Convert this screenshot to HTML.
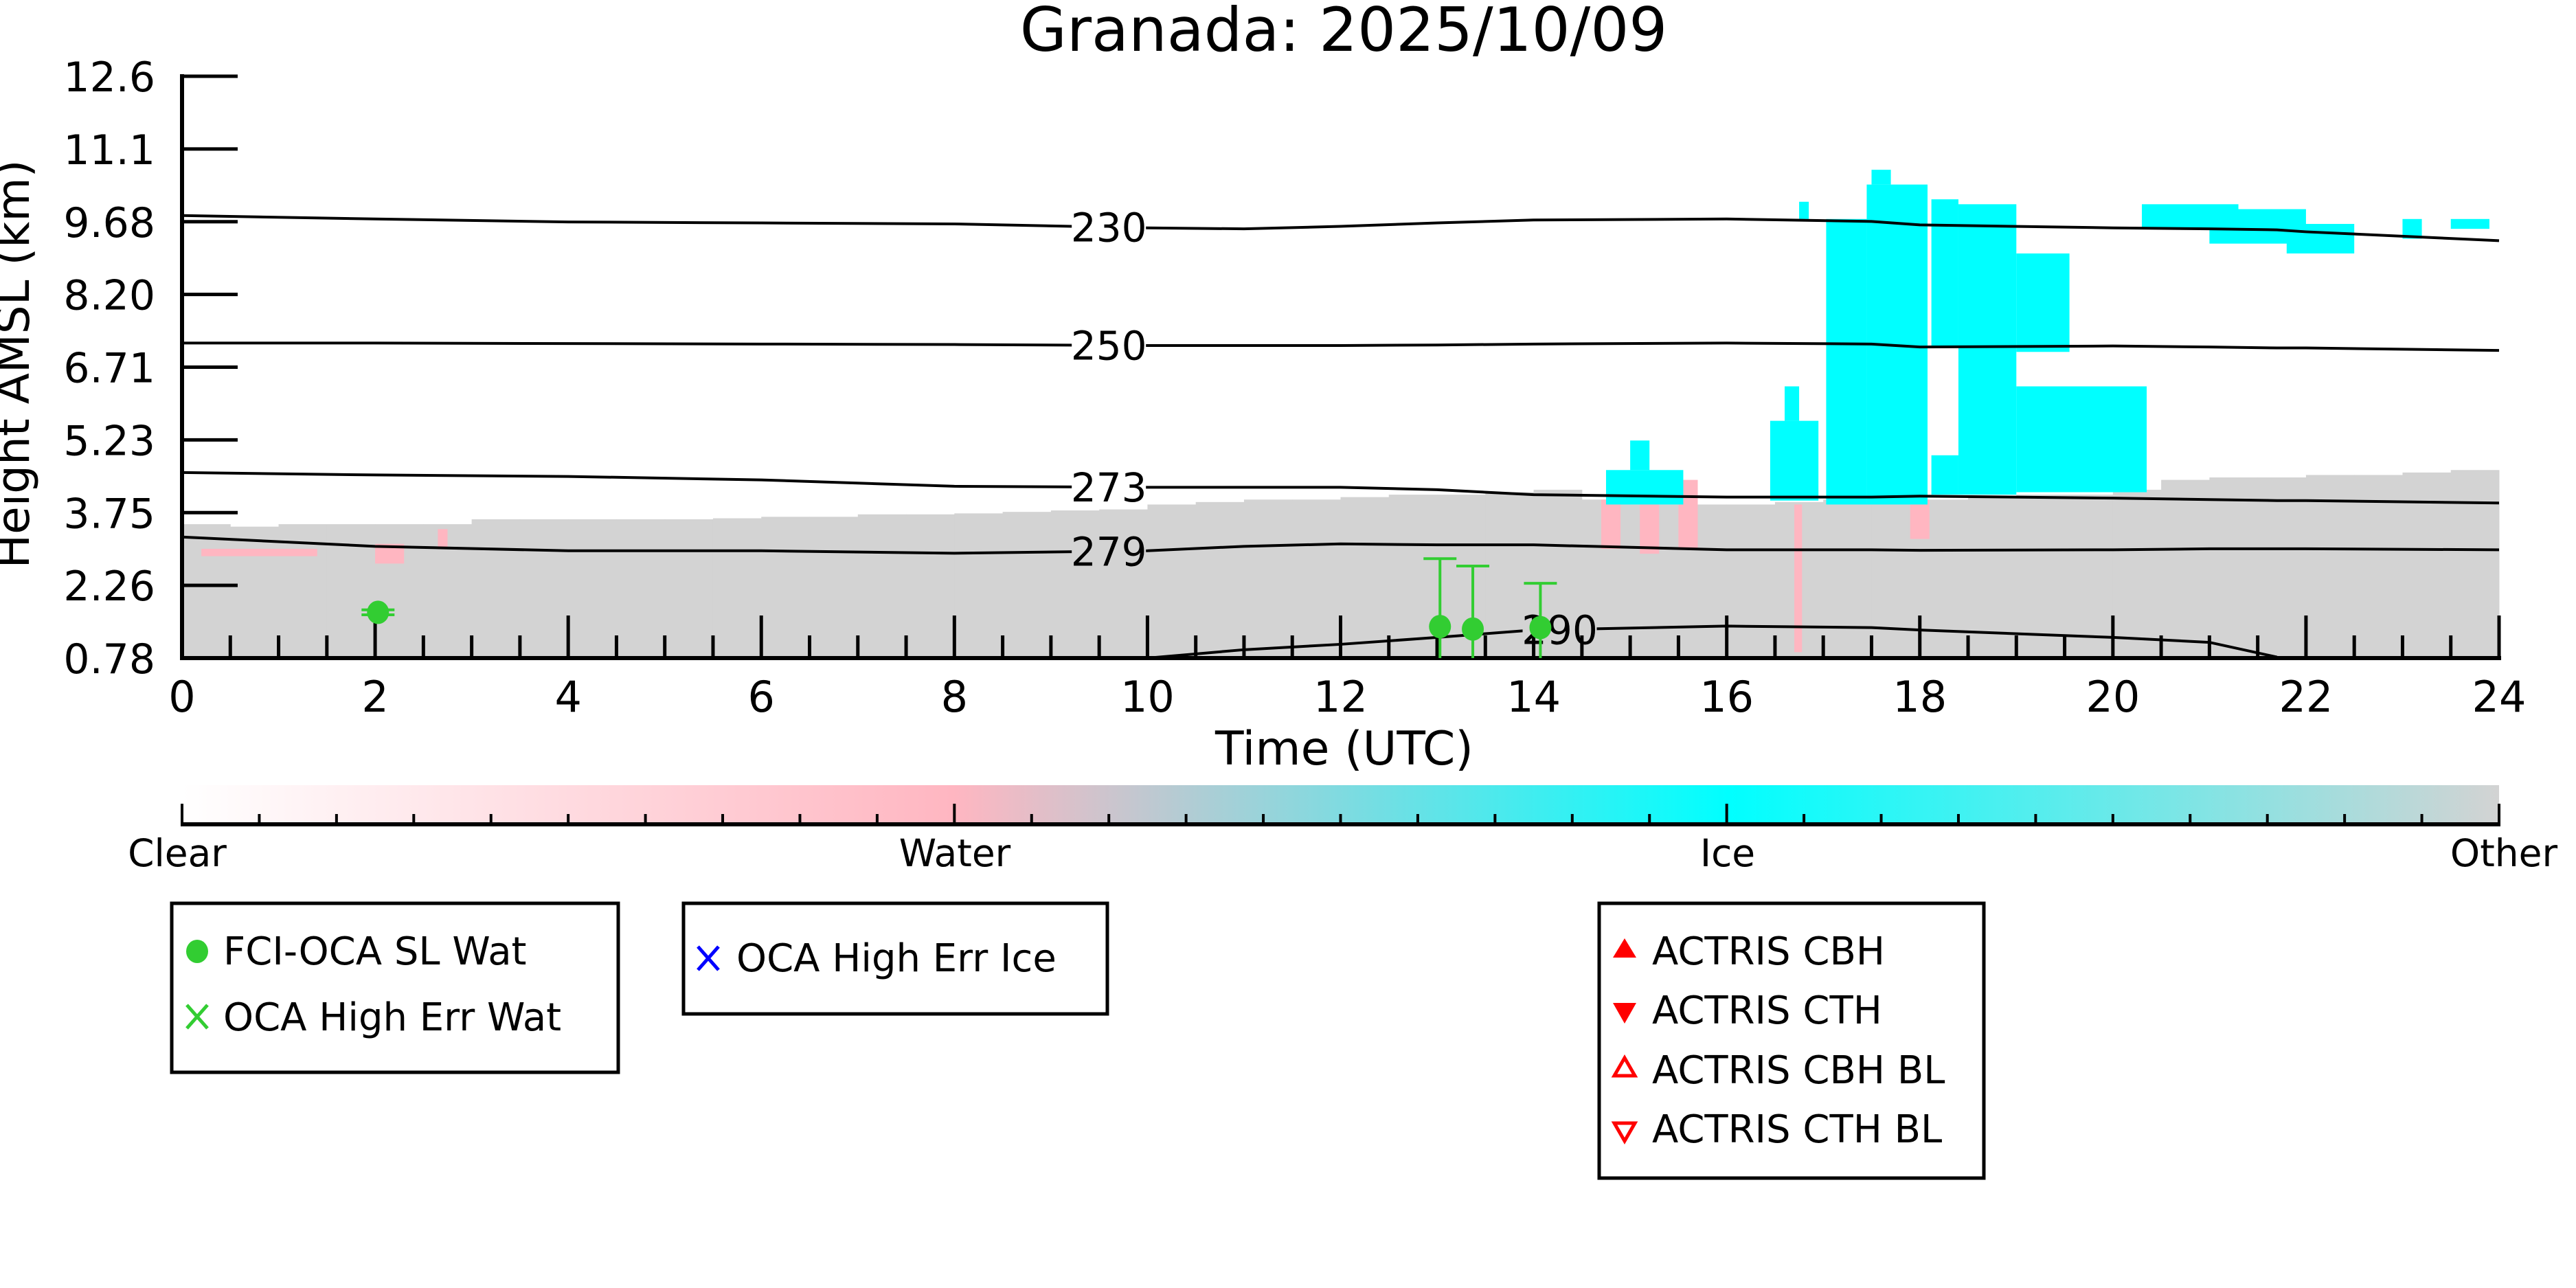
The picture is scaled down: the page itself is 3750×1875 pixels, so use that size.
<!DOCTYPE html>
<html><head><meta charset="utf-8"><style>
html,body{margin:0;padding:0;background:#fff}
svg{display:block;font-family:"DejaVu Sans","Liberation Sans",sans-serif}
</style></head><body>
<svg id="chart" width="3750" height="1875" viewBox="0 0 3750 1875" xmlns="http://www.w3.org/2000/svg">
<defs>
<linearGradient id="cbar" x1="0" x2="1" y1="0" y2="0">
<stop offset="0" stop-color="#ffffff"/><stop offset="0.333" stop-color="#ffb6c1"/>
<stop offset="0.667" stop-color="#00ffff"/><stop offset="1" stop-color="#d3d3d3"/>
</linearGradient>
<clipPath id="plotclip"><rect x="265" y="100" width="3375" height="858"/></clipPath>
<mask id="lblmask" maskUnits="userSpaceOnUse" x="0" y="0" width="3750" height="1875"><rect x="0" y="0" width="3750" height="1875" fill="#fff"/></mask>
</defs>
<text x="1956" y="74" font-size="88" text-anchor="middle">Granada: 2025/10/09</text>
<g id="plot" clip-path="url(#plotclip)"></g>
<g id="axes"></g>
<text x="1957" y="1113" font-size="68" text-anchor="middle">Time (UTC)</text>
<text transform="translate(42,530) rotate(-90)" font-size="66" text-anchor="middle">Height AMSL (km)</text>
<g>
<rect x="265" y="1143" width="3373" height="57" fill="url(#cbar)"/>
<g id="cbticks"></g>
<text x="258" y="1261" font-size="55" text-anchor="middle">Clear</text>
<text x="1390" y="1261" font-size="55" text-anchor="middle">Water</text>
<text x="2515" y="1261" font-size="55" text-anchor="middle">Ice</text>
<text x="3645" y="1261" font-size="55" text-anchor="middle">Other</text>
</g>
<g>
<rect x="250" y="1315" width="650" height="246" fill="#fff" stroke="#000" stroke-width="5"/>
<g><ellipse cx="287" cy="1385" rx="16" ry="17" fill="#32cd32"/><text x="325" y="1404" font-size="56">FCI-OCA SL Wat</text></g>
<g><path d="M272 1463 L302 1497 M302 1463 L272 1497" stroke="#32cd32" stroke-width="5"/><text x="325" y="1500" font-size="56">OCA High Err Wat</text></g>
</g>
<g>
<rect x="995" y="1315" width="617" height="161" fill="#fff" stroke="#000" stroke-width="5"/>
<g><path d="M1016 1378 L1046 1412 M1046 1378 L1016 1412" stroke="#0000ff" stroke-width="5"/><text x="1072" y="1414" font-size="56">OCA High Err Ice</text></g>
</g>
<g>
<rect x="2328" y="1315" width="560" height="400" fill="#fff" stroke="#000" stroke-width="5"/>
<g><path d="M2365 1366 L2382 1394 L2348 1394 Z" fill="#ff0000"/><text x="2405" y="1404" font-size="56">ACTRIS CBH</text></g>
<g><path d="M2348 1460 L2382 1460 L2365 1490 Z" fill="#ff0000"/><text x="2405" y="1490" font-size="56">ACTRIS CTH</text></g>
<g><path d="M2365 1540 L2380 1566 L2350 1566 Z" fill="none" stroke="#ff0000" stroke-width="5"/><text x="2405" y="1577" font-size="56">ACTRIS CBH BL</text></g>
<g><path d="M2350 1635 L2380 1635 L2365 1661 Z" fill="none" stroke="#ff0000" stroke-width="5"/><text x="2405" y="1663" font-size="56">ACTRIS CTH BL</text></g>
</g>
</svg>
<script>
// ---- data ----
const otherTimes = [0,0.5,1,1.5,2,2.5,3,3.5,4,4.5,5,5.5,6,6.5,7,7.5,8,8.5,9,9.5,10,10.5,11,11.5,12,12.5,13,13.5,14,14.5,15,15.5,16,16.5,17,17.5,18,18.5,19,19.5,20,20.5,21,21.5,22,22.5,23,23.5];
const otherTops = [3.5,3.45,3.5,3.5,3.5,3.5,3.6,3.6,3.6,3.6,3.6,3.62,3.65,3.65,3.7,3.7,3.72,3.75,3.78,3.8,3.9,3.95,4.0,4.0,4.05,4.1,4.1,4.15,4.2,4.0,3.9,3.9,3.9,3.95,4.0,4.0,4.0,4.05,4.1,4.1,4.2,4.4,4.45,4.45,4.5,4.5,4.55,4.6];
const iceSegs = [[14.75,15.55,3.9,4.6],[15.0,15.2,4.6,5.2],[16.45,16.95,3.98,5.6],[16.6,16.75,5.6,6.3],[16.75,16.85,9.7,10.05],[17.03,17.45,3.9,9.7],[17.45,18.08,3.9,10.4],[17.5,17.7,10.4,10.7],[18.12,18.4,7.1,10.1],[18.12,18.4,4.1,4.9],[18.4,19.0,4.1,10.0],[19.0,19.55,7.0,9.0],[19.0,20.35,4.15,6.3],[20.3,21.3,9.5,10.0],[21.0,22.0,9.2,9.9],[21.8,22.5,9.0,9.6],[23.0,23.2,9.3,9.7],[23.5,23.9,9.5,9.7]];
const waterSegs = [[0.2,1.4,2.85,3.0],[2.0,2.3,2.7,3.1],[2.65,2.75,3.0,3.4],[14.7,14.9,3.0,4.0],[15.1,15.3,2.9,4.3],[15.5,15.7,3.0,4.4],[16.7,16.78,0.9,3.9],[17.9,18.1,3.2,4.0],[19.2,19.4,4.3,5.5],[19.7,20.0,4.6,5.6]];
const contourTimes = [0,2,4,6,8,10,11,12,13,14,16,17.5,18,20,21,21.7,22,24];
const iso230 = [9.77,9.7,9.64,9.62,9.6,9.52,9.5,9.55,9.62,9.68,9.7,9.65,9.58,9.52,9.5,9.48,9.44,9.26];
const iso250 = [7.18,7.18,7.17,7.16,7.15,7.13,7.13,7.13,7.14,7.16,7.18,7.16,7.1,7.12,7.1,7.08,7.08,7.03];
const iso273 = [4.55,4.5,4.47,4.4,4.27,4.25,4.25,4.25,4.2,4.1,4.05,4.05,4.07,4.03,4.0,3.98,3.98,3.93];
const iso279 = [3.24,3.05,2.96,2.96,2.91,2.96,3.05,3.1,3.08,3.08,2.98,2.98,2.97,2.98,3.0,3.0,3.0,2.98];
const iso290 = [null,null,null,null,null,0.78,0.95,1.06,1.2,1.35,1.43,1.4,1.35,1.2,1.1,0.8,null,null];
const contourLabels = ["230","250","273","279","290"];
const labelTimes = [9.6,9.6,9.6,9.6,14.27];
const fciTimes = [2.03,13.03,13.37,14.07];
const fciHeights = [1.71,1.42,1.37,1.4];
const fciErrLow = [0.05,1.5,1.5,1.5];
const fciErrHigh = [0.05,1.38,1.28,0.9];
const yTickLabels = ["0.78","2.26","3.75","5.23","6.71","8.20","9.68","11.1","12.6"];
const xTickLabels = ["0","2","4","6","8","10","12","14","16","18","20","22","24"];
// ---- scales ----
const X0=265,X1=3638,Y0=958,Y1=111,KMIN=0.78,KMAX=12.6;
const xs=t=>X0+t/24*(X1-X0);
const ys=k=>Y0-(k-KMIN)/(KMAX-KMIN)*(Y0-Y1);
const NS="http://www.w3.org/2000/svg";
function mk(tag,attrs,parent){const e=document.createElementNS(NS,tag);for(const k in attrs)e.setAttribute(k,attrs[k]);parent.appendChild(e);return e;}
const plot=document.getElementById('plot'),axes=document.getElementById('axes'),maskEl=document.getElementById('lblmask');
otherTimes.forEach((t,i)=>{
  const r=mk('rect',{x:xs(t),y:ys(otherTops[i]),width:xs(t+0.5)-xs(t)+0.5,height:Y0-ys(otherTops[i]),fill:'#d3d3d3'},plot);
  
  
});
waterSegs.forEach(s=>{
  const r=mk('rect',{x:xs(s[0]),y:ys(s[3]),width:xs(s[1])-xs(s[0]),height:ys(s[2])-ys(s[3]),fill:'#ffb6c1'},plot);
  
  
});
iceSegs.forEach(s=>{
  const r=mk('rect',{x:xs(s[0]),y:ys(s[3]),width:xs(s[1])-xs(s[0]),height:ys(s[2])-ys(s[3]),fill:'#00ffff'},plot);
  
  
});
const lineG=mk('g',{mask:'url(#lblmask)'},plot);
[iso230,iso250,iso273,iso279,iso290].forEach((arr,j)=>{
  let d='';let started=false;
  arr.forEach((v,i)=>{ if(v===null){started=false;return;} d+=(started?'L':'M')+xs(contourTimes[i])+' '+ys(v)+' '; started=true;});
  const p=mk('path',{d:d,fill:'none',stroke:'#000','stroke-width':4},lineG);
  
  
  const lt=labelTimes[j];let k=0;while(k<contourTimes.length-1&&contourTimes[k+1]<lt)k++;
  const a=arr[k],b=arr[k+1];const f=(lt-contourTimes[k])/(contourTimes[k+1]-contourTimes[k]);
  const v=a+(b-a)*f;
  mk('rect',{x:xs(lt)-54,y:ys(v)-26,width:108,height:52,fill:'#000'},maskEl);
  const tx=mk('text',{x:xs(lt),y:ys(v)+21,'font-size':58,'text-anchor':'middle'},plot);
  tx.textContent=contourLabels[j];
  
  
});
for(let i=0;i<=48;i++){
  const t=i*0.5,major=i%4===0;
  const l=mk('line',{x1:xs(t),x2:xs(t),y1:Y0,y2:Y0-(major?62:33),stroke:'#000','stroke-width':5},axes);
  
  
}
xTickLabels.forEach((s,i)=>{
  const tx=mk('text',{x:xs(i*2),y:1036,'font-size':62,'text-anchor':'middle'},axes);tx.textContent=s;
  
  
});
yTickLabels.forEach((s,i)=>{
  const y=Y0-i*(Y0-Y1)/8;
  const l=mk('line',{x1:X0,x2:X0+81,y1:y,y2:y,stroke:'#000','stroke-width':5},axes);
  
  
  const tx=mk('text',{x:226,y:y+22,'font-size':60,'text-anchor':'end'},axes);tx.textContent=s;
  
  
});
const sp1=mk('line',{x1:X0,x2:X0,y1:Y1-3,y2:Y0+3,stroke:'#000','stroke-width':6},axes);


const sp2=mk('line',{x1:X0-3,x2:X1+3,y1:Y0,y2:Y0,stroke:'#000','stroke-width':6},axes);


const pg=mk('g',{},axes);
fciTimes.forEach((t,i)=>{
  const x=xs(t),y=ys(fciHeights[i]);
  const yt=ys(fciHeights[i]+fciErrHigh[i]),yb=Math.min(ys(fciHeights[i]-fciErrLow[i]),Y0);
  const e=mk('path',{d:`M${x} ${yt} L${x} ${yb} M${x-24} ${yt} L${x+24} ${yt}`+(yb<Y0?` M${x-24} ${yb} L${x+24} ${yb}`:''),stroke:'#32cd32','stroke-width':4,fill:'none'},pg);
  
  
  const c=mk('ellipse',{cx:x,cy:y,rx:16,ry:17,fill:'#32cd32'},pg);
  
  
});
const cb=document.getElementById('cbticks');
for(let i=0;i<=30;i++){
  const x=X0+i*(X1-X0)/30,major=i%10===0;
  const l=mk('line',{x1:x,x2:x,y1:1200,y2:1200-(major?30:15),stroke:'#000','stroke-width':4},cb);
  
  
}
const cbl=mk('line',{x1:X0-2,x2:X1+2,y1:1200,y2:1200,stroke:'#000','stroke-width':6},cb);


</script>
</body></html>
